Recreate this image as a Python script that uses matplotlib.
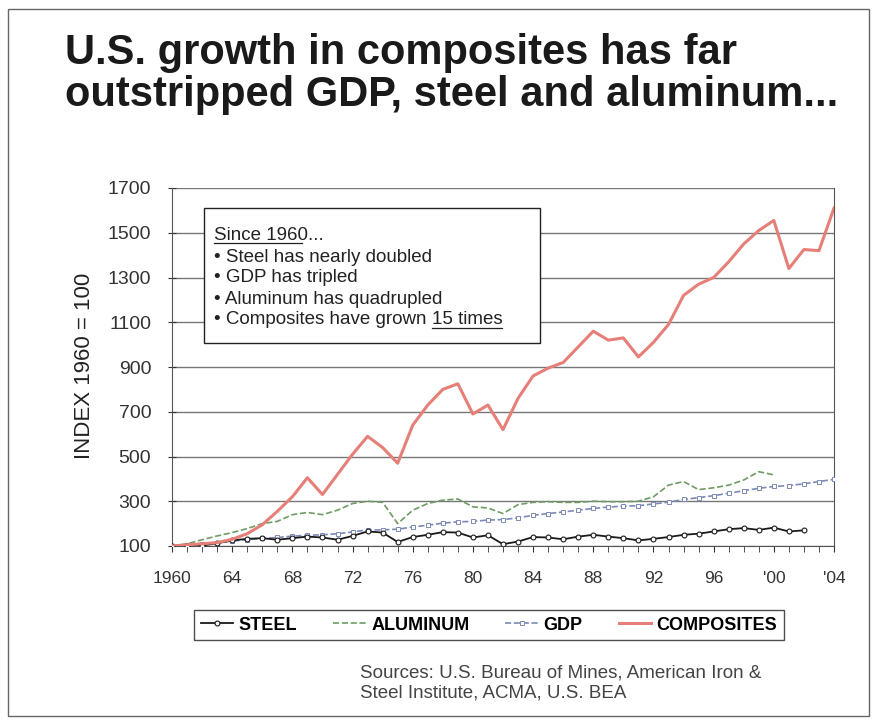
import numpy as np
import matplotlib
matplotlib.use('Agg')
import matplotlib.pyplot as plt
from matplotlib.patches import Rectangle
from matplotlib.lines import Line2D

plt.rcParams['font.family'] = ['Liberation Sans', 'DejaVu Sans']

# Index values, 1960 = 100
years = list(range(1960, 2005))

composites = [100, 105, 110, 115, 130, 155, 195, 255, 320, 405,
              330, 420, 510, 590, 540, 470, 640, 730, 800, 825,
              690, 730, 620, 760, 860, 895, 920, 990, 1060, 1020,
              1030, 945, 1010, 1090, 1220, 1270, 1300, 1370, 1450, 1510,
              1555, 1340, 1425, 1420, 1610]

gdp = [100, 103, 110, 115, 122, 128, 134, 138, 144, 148,
       150, 155, 163, 172, 172, 175, 185, 193, 202, 208,
       210, 216, 218, 226, 237, 245, 252, 260, 268, 274,
       278, 280, 288, 296, 308, 316, 325, 336, 347, 358,
       366, 370, 378, 388, 398]

# aluminum and steel series stop earlier
alum_years = list(range(1960, 2001))
aluminum = [100, 110, 128, 145, 160, 178, 200, 210, 240, 250,
            240, 260, 290, 300, 295, 200, 260, 290, 305, 310,
            275, 270, 245, 285, 295, 298, 295, 295, 300, 298,
            298, 300, 320, 372, 388, 352, 360, 372, 395, 432,
            418]

steel_years = list(range(1960, 2003))
steel = [100, 98, 102, 112, 125, 132, 135, 128, 135, 142,
         138, 128, 145, 165, 160, 118, 140, 150, 162, 160,
         138, 148, 108, 120, 140, 138, 130, 142, 150, 142,
         135, 125, 132, 140, 150, 155, 165, 175, 180, 172,
         182, 165, 170]

yticks = list(range(100, 1701, 200))
xtick_years = list(range(1960, 2005, 4))
xtick_labels = ['1960', '64', '68', '72', '76', '80', '84', '88', '92', '96', "'00", "'04"]

W, H = 875, 724
fig = plt.figure(figsize=(W / 100, H / 100), dpi=100)

def fx(px):
    return px / W

def fy(py):
    return 1 - py / H

ax = fig.add_axes([fx(172), fy(546), fx(834) - fx(172), fy(188) - fy(546)])

ax.plot(steel_years, steel, '-', color='#1a1a1a', lw=1.3, marker='o', ms=3.5,
        mfc='white', mew=0.8, label='STEEL', zorder=4)
ax.plot(alum_years, aluminum, '--', color='#6f9c63', lw=1.2, label='ALUMINUM', zorder=3)
ax.plot(years, gdp, '--', color='#7c89b8', lw=1.2, marker='s', ms=2.8,
        mfc='white', mew=0.7, label='GDP', zorder=3)
ax.plot(years, composites, '-', color='#e57f78', lw=2.2, label='COMPOSITES', zorder=5)

ax.set_xlim(1960, 2004)
ax.set_ylim(100, 1700)
ax.set_yticks(yticks)
ax.set_xticks(xtick_years)
ax.set_xticklabels(xtick_labels)
ax.set_xticks(years, minor=True)
ax.tick_params(axis='y', direction='inout', length=6, labelsize=14, pad=12, colors='#333333')
ax.tick_params(axis='x', which='both', direction='out', length=4, labelsize=12.5, pad=14,
               colors='#333333')
ax.grid(axis='y', color='#777777', lw=1.0)
ax.set_axisbelow(True)
for s in ax.spines.values():
    s.set_color('#555555')
ax.spines['top'].set_visible(False)

fig.text(fx(85), fy(366), 'INDEX 1960 = 100', rotation=90, ha='center', va='center',
         fontsize=16, color='#222222')

# title
fig.text(fx(65), fy(33), 'U.S. growth in composites has far\noutstripped GDP, steel and aluminum...',
         ha='left', va='top', fontsize=30, fontweight='bold', color='#1a1a1a', linespacing=1.07)

# summary box
fig.patches.append(Rectangle((fx(204), fy(343)), fx(540) - fx(204), fy(208) - fy(343),
                             transform=fig.transFigure, facecolor='white',
                             edgecolor='#222222', lw=1.0, zorder=6))
box_lines = ['Since 1960...', '\u2022 Steel has nearly doubled', '\u2022 GDP has tripled',
             '\u2022 Aluminum has quadrupled', '\u2022 Composites have grown ']
box_y = [235, 258, 278, 299, 320]
txts = []
for s, y in zip(box_lines, box_y):
    txts.append(fig.text(fx(214), fy(y), s, ha='left', va='center', fontsize=13.5,
                         color='#222222', zorder=7))

fig.canvas.draw()
r = fig.canvas.get_renderer()
bb = txts[-1].get_window_extent(r)
last = fig.text(bb.x1 / W, fy(320), '15 times', ha='left', va='center', fontsize=13.5,
                color='#222222', zorder=7)
fig.canvas.draw()

# underline "Since 1960" and "15 times"
def underline(t, frac=1.0):
    b = t.get_window_extent(r)
    yl = (b.y0 + 1) / H
    fig.lines.append(Line2D([b.x0 / W, (b.x0 + (b.x1 - b.x0) * frac) / W], [yl, yl],
                            transform=fig.transFigure, color='#222222', lw=0.9, zorder=7))

underline(txts[0], 0.8)
underline(last)

leg = ax.legend(loc='center', bbox_to_anchor=(fx(489), fy(625)), bbox_transform=fig.transFigure,
                ncol=4, frameon=True, fancybox=False, edgecolor='#222222',
                prop={'weight': 'bold', 'size': 13}, handlelength=1.8, columnspacing=2.0,
                handletextpad=0.3, borderpad=0.35)
leg.get_frame().set_linewidth(1.0)

fig.text(fx(360), fy(683), 'Sources: U.S. Bureau of Mines, American Iron &\nSteel Institute, ACMA, U.S. BEA',
         ha='left', va='center', fontsize=13.5, color='#444444', linespacing=1.2)

# page frame
fig.patches.append(Rectangle((fx(8), fy(716)), fx(869) - fx(8), fy(9) - fy(716),
                             transform=fig.transFigure, fill=False, edgecolor='#666666', lw=1.0))

fig.savefig('out.png', dpi=100)
